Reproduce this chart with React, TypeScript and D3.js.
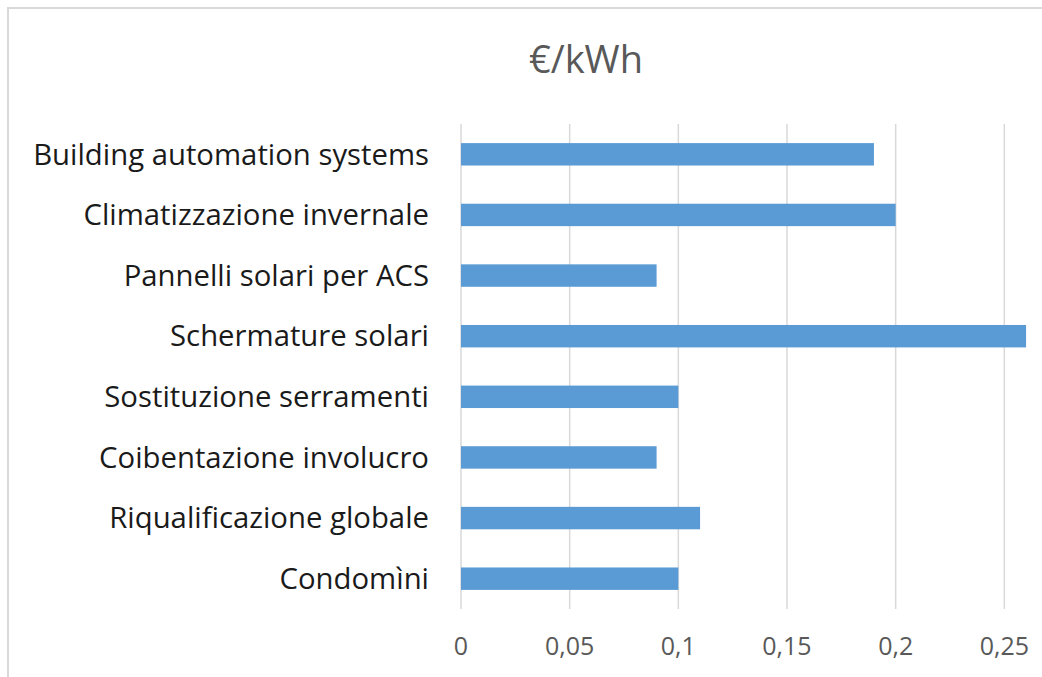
import React, { useEffect, useRef } from "react";
import * as d3 from "d3";

const categories = [
  "Building automation systems",
  "Climatizzazione invernale",
  "Pannelli solari per ACS",
  "Schermature solari",
  "Sostituzione serramenti",
  "Coibentazione involucro",
  "Riqualificazione globale",
  "Condomìni",
];
const values = [0.19, 0.2, 0.09, 0.26, 0.1, 0.09, 0.11, 0.1];
const ticks = [0, 0.05, 0.1, 0.15, 0.2, 0.25, 0.3];
const tickLabels = ["0", "0,05", "0,1", "0,15", "0,2", "0,25"];
const title = "€/kWh";

const FONT = "'Open Sans', 'Noto Sans', sans-serif";

const App = () => {
  const svgRef = useRef<SVGSVGElement>(null);

  useEffect(() => {
    const width = 1042;
    const height = 677;
    const svg = d3.select(svgRef.current);
    svg.selectAll("*").remove();

    svg.append("rect")
      .attr("width", width)
      .attr("height", height)
      .attr("fill", "#fff");

    // chart frame (cropped on right and bottom)
    svg.append("rect")
      .attr("x", 8)
      .attr("y", 8)
      .attr("width", 1200)
      .attr("height", 800)
      .attr("fill", "none")
      .attr("stroke", "#d9d9d9")
      .attr("stroke-width", 2);

    const x = d3.scaleLinear().domain([0, 0.3]).range([461, 1113]);
    const y = d3.scaleBand().domain(categories).range([124, 609]).paddingInner(0.63).paddingOuter(0.315);

    // grid
    svg.append("g")
      .selectAll("line")
      .data(ticks)
      .join("line")
      .attr("x1", d => x(d))
      .attr("x2", d => x(d))
      .attr("y1", 124)
      .attr("y2", 609)
      .attr("stroke", "#d9d9d9")
      .attr("stroke-width", 1.5);

    // bars
    svg.append("g")
      .selectAll("rect")
      .data(values)
      .join("rect")
      .attr("x", x(0))
      .attr("y", (d, i) => y(categories[i])!)
      .attr("width", d => x(d) - x(0))
      .attr("height", y.bandwidth())
      .attr("fill", "#5b9bd5");

    // category labels
    svg.append("g")
      .selectAll("text")
      .data(categories)
      .join("text")
      .attr("x", 429)
      .attr("y", d => y(d)! + y.bandwidth() / 2)
      .attr("dy", "0.35em")
      .attr("text-anchor", "end")
      .attr("font-family", FONT)
      .attr("font-size", 29.3)
      .attr("fill", "#1a1a1a")
      .text(d => d);

    // tick labels
    svg.append("g")
      .selectAll("text")
      .data(tickLabels)
      .join("text")
      .attr("x", (d, i) => x(ticks[i]))
      .attr("y", 646)
      .attr("dy", "0.35em")
      .attr("text-anchor", "middle")
      .attr("font-family", FONT)
      .attr("font-size", 25)
      .attr("fill", "#595959")
      .text(d => d);

    svg.append("text")
      .attr("x", 586)
      .attr("y", 60)
      .attr("dy", "0.35em")
      .attr("text-anchor", "middle")
      .attr("font-family", FONT)
      .attr("font-size", 38)
      .attr("fill", "#595959")
      .text(title);
  }, []);

  return (
    <svg
      ref={svgRef}
      width={1042}
      height={677}
      style={{ position: "absolute", left: 0, top: 0 }}
    />
  );
};

export default App;
